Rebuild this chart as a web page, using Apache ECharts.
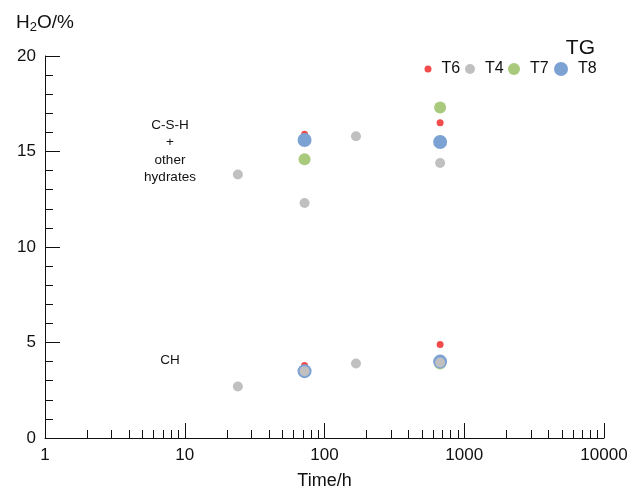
<!DOCTYPE html>
<html>
<head>
<meta charset="utf-8">
<script src="https://cdn.jsdelivr.net/npm/echarts@6/dist/echarts.min.js"></script>
<style>
  html, body { margin: 0; padding: 0; background: #fff; }
  #chart { width: 633px; height: 490px; }
</style>
</head>
<body>
<div id="chart"></div>
<script>
// data (time in h, water content in %)
const t6Times = [72, 672, 72, 672];
const t6Water = [15.9, 16.5, 3.8, 4.9];
const t4Times = [24, 72, 168, 672, 24, 72, 168, 672];
const t4Water = [13.8, 12.3, 15.8, 14.4, 2.7, 3.5, 3.9, 3.95];
const t7Times = [72, 672, 72, 672];
const t7Water = [14.6, 17.3, 3.45, 3.9];
const t8Times = [72, 672, 72, 672];
const t8Water = [15.6, 15.5, 3.5, 4.0];

const minorTickValues = [
  2, 3, 4, 5, 6, 7, 8, 9,
  20, 30, 40, 50, 60, 70, 80, 90,
  200, 300, 400, 500, 600, 700, 800, 900,
  2000, 3000, 4000, 5000, 6000, 7000, 8000, 9000
];

const FONT = 'Liberation Sans';

const pairs = (xs, ys) => xs.map((x, i) => [x, ys[i]]);

const seriesDefs = [
  { name: 'T6', times: t6Times, water: t6Water, color: '#f24b4b', size: 7 },
  { name: 'T7', times: t7Times, water: t7Water, color: '#a9c97c', size: 12 },
  { name: 'T8', times: t8Times, water: t8Water, color: '#7ca2d4', size: 14 },
  { name: 'T4', times: t4Times, water: t4Water, color: '#c0c0c0', size: 10 }
];

// legend items sit in one row, each its own component so the icons keep their size
const legendPos = { T6: 428, T4: 470, T7: 514, T8: 561 };

const chart = echarts.init(document.getElementById('chart'));

const option = {
  animation: false,
  textStyle: { fontFamily: FONT },
  title: {
    text: 'TG',
    right: 33,
    top: 33,
    textStyle: { fontFamily: FONT, fontSize: 21, fontWeight: 'normal', color: '#111' }
  },
  legend: seriesDefs.map(s => ({
    data: [s.name],
    left: legendPos[s.name] - s.size / 2,
    top: 61,
    padding: 0,
    itemWidth: s.size,
    itemHeight: s.size,
    icon: 'circle',
    selectedMode: false,
    textStyle: { fontFamily: FONT, fontSize: 16, color: '#111', padding: [0, 0, 0, 5] }
  })),
  grid: { left: 45, right: 29, top: 56, bottom: 52, outerBoundsMode: 'none', containLabel: false },
  xAxis: [
    {
      type: 'log',
      logBase: 10,
      min: 1,
      max: 10000,
      name: 'Time/h',
      nameLocation: 'middle',
      nameGap: 34,
      nameTextStyle: { fontFamily: FONT, fontSize: 18, color: '#111' },
      axisLine: { lineStyle: { color: '#111', width: 1 } },
      axisTick: { inside: true, length: 15, lineStyle: { color: '#111' } },
      axisLabel: {
        fontFamily: FONT,
        fontSize: 17,
        color: '#111',
        margin: 9,
        formatter: v => String(v)
      },
      splitLine: { show: false }
    },
    {
      type: 'log',
      logBase: 10,
      min: 1,
      max: 10000,
      position: 'bottom',
      axisLine: { show: false },
      axisLabel: { show: false },
      axisTick: {
        inside: true,
        length: 8,
        customValues: minorTickValues,
        lineStyle: { color: '#111' }
      },
      splitLine: { show: false }
    }
  ],
  yAxis: {
    type: 'value',
    min: 0,
    max: 20,
    interval: 5,
    name: '{a|H}{b|2}{a|O/%}',
    nameLocation: 'end',
    nameGap: 22,
    nameTextStyle: {
      rich: {
        a: { fontFamily: FONT, fontSize: 19, color: '#111' },
        b: { fontFamily: FONT, fontSize: 13, color: '#111', verticalAlign: 'bottom', padding: [10, 0, 0, 0] }
      }
    },
    axisLine: { show: true, lineStyle: { color: '#111', width: 1 } },
    axisTick: { show: true, inside: true, length: 15, lineStyle: { color: '#111' } },
    minorTick: { show: true, splitNumber: 5, length: 8, lineStyle: { color: '#111' } },
    axisLabel: { fontFamily: FONT, fontSize: 17, color: '#111', margin: 9 },
    splitLine: { show: false }
  },
  graphic: [
    {
      type: 'text',
      x: 170,
      y: 116,
      style: {
        text: 'C-S-H\n+\nother\nhydrates',
        fontFamily: FONT,
        fontSize: 13.5,
        lineHeight: 17.6,
        fill: '#111',
        align: 'center'
      }
    },
    {
      type: 'text',
      x: 170,
      y: 360,
      style: {
        text: 'CH',
        fontFamily: FONT,
        fontSize: 13.5,
        fill: '#111',
        align: 'center',
        verticalAlign: 'middle'
      }
    }
  ],
  series: seriesDefs.map(s => ({
    name: s.name,
    type: 'scatter',
    xAxisIndex: 0,
    symbol: 'circle',
    symbolSize: s.size,
    itemStyle: { color: s.color, opacity: 1 },
    emphasis: { disabled: true },
    data: pairs(s.times, s.water)
  }))
};

chart.setOption(option);
</script>
</body>
</html>
